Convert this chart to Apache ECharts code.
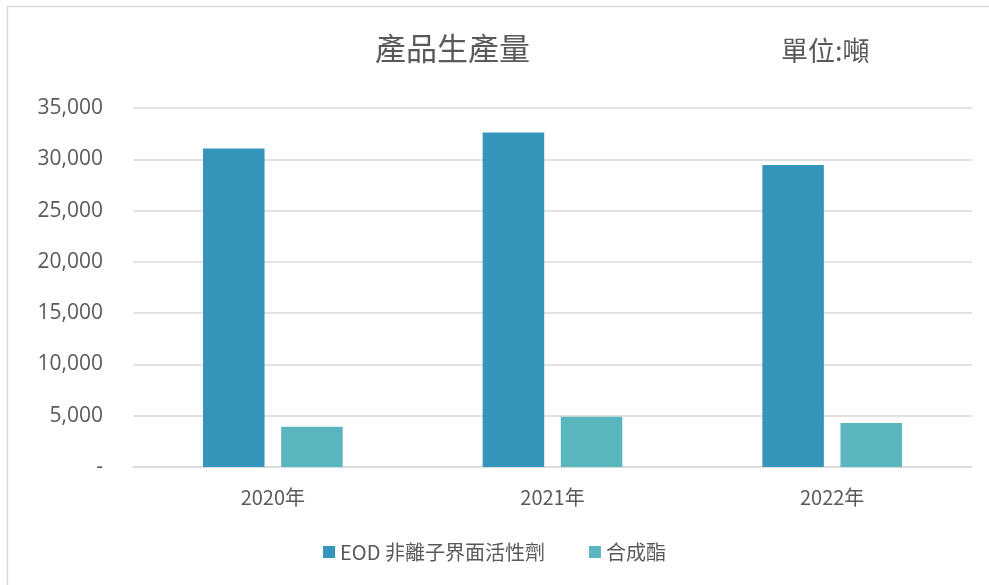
<!DOCTYPE html>
<html><head><meta charset="utf-8">
<script src="https://cdn.jsdelivr.net/npm/echarts@6/dist/echarts.min.js"></script>
<style>html,body{margin:0;padding:0;background:#fff}#c{width:989px;height:585px}</style>
</head><body><div id="c"></div>
<script>
const categories = ['2020年', '2021年', '2022年'];
const seriesNames = ['EOD 非離子界面活性劑', '合成酯'];
const eodValues = [31050, 32600, 29450];
const esterValues = [3930, 4900, 4290];
const yTicks = [0, 5000, 10000, 15000, 20000, 25000, 30000, 35000];

const chart = echarts.init(document.getElementById('c'), null, {renderer: 'canvas'});
const txt = '#595959';
const font = "'Noto Sans CJK TC', 'Noto Sans', sans-serif";
chart.setOption({
  animation: false,
  textStyle: {fontFamily: font},
  graphic: [
    {type: 'rect', shape: {x: 7.5, y: 6.5, width: 1000, height: 600}, style: {fill: 'none', stroke: '#d9d9d9', lineWidth: 1.5}, silent: true},
    {type: 'text', left: 375, top: 33, style: {text: '產品生產量', fontSize: 31, fill: txt, fontFamily: font}},
    {type: 'text', left: 781, top: 37, style: {text: '單位:噸', fontSize: 27, fill: txt, fontFamily: font}}
  ],
  grid: {left: 133, right: 17, top: 108, bottom: 118, containLabel: false},
  legend: {
    bottom: 18, left: 'center', itemWidth: 12, itemHeight: 12, itemGap: 44,
    icon: 'rect',
    textStyle: {fontSize: 20, color: txt, fontFamily: font},
    data: seriesNames
  },
  xAxis: {
    type: 'category', data: categories,
    axisLine: {lineStyle: {color: '#d9d9d9', width: 1.5}},
    axisTick: {show: false},
    axisLabel: {fontSize: 20, color: txt, margin: 20, fontFamily: font}
  },
  yAxis: {
    type: 'value', min: 0, max: 35000, interval: 5000,
    axisLine: {show: false}, axisTick: {show: false},
    splitLine: {lineStyle: {color: '#d9d9d9', width: 1.5}},
    axisLabel: {
      fontSize: 21, color: txt, margin: 30, fontFamily: "'Open Sans', 'Noto Sans', sans-serif",
      formatter: v => v === 0 ? '-' : v.toLocaleString('en-US')
    }
  },
  series: [
    {name: seriesNames[0], type: 'bar', data: eodValues, barWidth: '22%', barGap: '27%',
     itemStyle: {color: '#3595bb'}},
    {name: seriesNames[1], type: 'bar', data: esterValues, barWidth: '22%', barGap: '27%',
     itemStyle: {color: '#59b6bf'}}
  ]
});
</script></body></html>
